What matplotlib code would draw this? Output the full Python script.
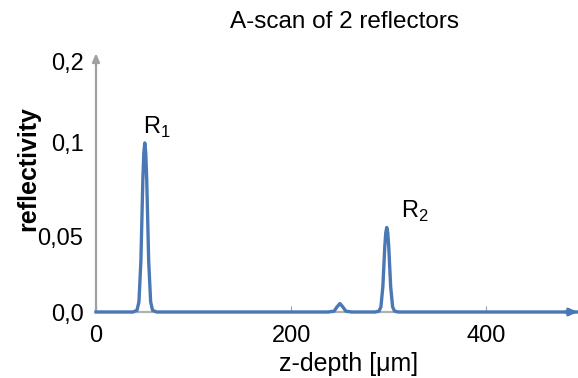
import numpy as np
import matplotlib.pyplot as plt

plt.rcParams['font.family'] = ['Liberation Sans', 'DejaVu Sans']

# --- A-scan trace (z in um, reflectivity)
z = [0, 38, 42, 44, 46, 47, 48, 49, 50, 51, 52, 53, 54, 56, 58, 62,
     238, 244, 247, 250, 253, 256, 262,
     286, 290, 292, 294, 295, 296, 297, 298, 299, 300, 301, 302, 304, 306, 310, 494]
refl = [0, 0, 0.001, 0.006, 0.030, 0.054, 0.078, 0.094, 0.100, 0.094, 0.078, 0.054, 0.030, 0.006, 0.001, 0,
        0, 0.0005, 0.003, 0.005, 0.003, 0.0005, 0,
        0, 0.0005, 0.003, 0.015, 0.027, 0.039, 0.047, 0.050, 0.047, 0.039, 0.027, 0.015, 0.003, 0.0005, 0, 0]

peak_names = [r"R$_\mathregular{1}$", r"R$_\mathregular{2}$"]
peak_z = [50, 300]
peak_r = [0.100, 0.050]

xtick_vals = [0, 200, 400]
ytick_labels = ["0,0", "0,05", "0,1", "0,2"]
ytick_pos = [0, 0.0444, 0.1, 0.148]   # the original axis is not linear

fig = plt.figure(figsize=(5.78, 3.78), dpi=100)
ax = fig.add_axes([96/578, 66/378, 482/578, 257/378])
ax.set_xlim(0, 494)
ax.set_ylim(0, 0.152)

for s in ax.spines.values():
    s.set_visible(False)

# axes drawn as arrows
ax.annotate('', xy=(0, 0.153), xytext=(0, 0), xycoords='data',
            arrowprops=dict(arrowstyle='-|>,head_length=0.5,head_width=0.22',
                            color='#a0a0a0', lw=1.6, shrinkA=0, shrinkB=0),
            annotation_clip=False)
ax.plot([0, 494], [0, 0], color='#b0b0b0', lw=1.6, zorder=1, clip_on=False)

ax.plot(z, refl, color='#4a78b5', lw=2.4, zorder=3, clip_on=False,
        solid_joinstyle='round')
ax.annotate('', xy=(494, 0), xytext=(480, 0),
            arrowprops=dict(arrowstyle='-|>,head_length=0.5,head_width=0.22',
                            color='#4a78b5', lw=2, shrinkA=0, shrinkB=0),
            annotation_clip=False)

label_dz = [-2, 13]
for name, zp, rp, dz in zip(peak_names, peak_z, peak_r, label_dz):
    ax.text(zp + dz, rp + 0.002, name, fontsize=17, ha='left', va='bottom')

ax.set_xticks(xtick_vals)
ax.set_xticklabels([str(v) for v in xtick_vals], fontsize=17)
ax.tick_params(axis='x', direction='in', length=4, color='#a0a0a0', pad=9)
ax.set_yticks(ytick_pos)
ax.set_yticklabels(ytick_labels, fontsize=17)
ax.tick_params(axis='y', length=0, pad=9)

fig.text(349/578, 1 - 364/378, u"z-depth [\u03bcm]", fontsize=18, ha='center', va='center')
fig.text(28/578, 1 - 169/378, "reflectivity", fontsize=18, fontweight='bold',
         rotation=90, ha='center', va='center')
fig.text(345/578, 1 - 22/378, "A-scan of 2 reflectors", fontsize=17.5, ha='center', va='center')

fig.savefig("out.png", dpi=100)
